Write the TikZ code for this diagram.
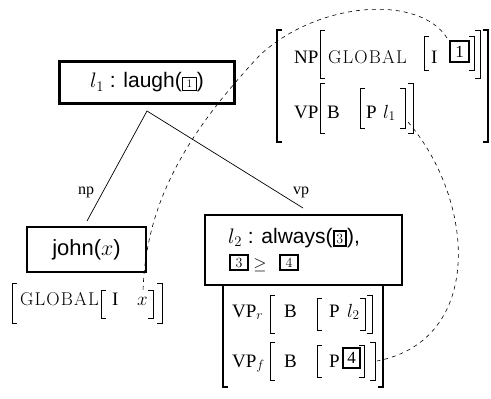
\RequirePackage{fix-cm}
\documentclass[tikz,border=0pt]{standalone}
\usepackage{fontspec}
\setmainfont{Liberation Serif}
\setsansfont{Liberation Sans}
\newfontfamily\lmfont{Latin Modern Roman}
\newfontfamily\lmsc[LetterSpace=6]{Latin Modern Roman}
\newcommand{\tg}[3]{{\setlength{\fboxrule}{#1}\setlength{\fboxsep}{#2}\fbox{#3}}}
\newcommand{\LB}[4][brk]{\draw[#1] (#2+5,#3) -- (#2,#3) -- (#2,#4) -- (#2+5,#4);}
\newcommand{\RB}[4][brk]{\draw[#1] (#2-5,#3) -- (#2,#3) -- (#2,#4) -- (#2-5,#4);}
\begin{document}
\begin{tikzpicture}[x=1pt,y=-1pt,
  lab/.style={inner sep=0pt, anchor=base west, font=\fontsize{19}{22}\selectfont},
  sc/.style={inner sep=0pt, anchor=base west, font=\fontsize{18.5}{20}\selectfont\lmsc},
  brk/.style={line width=0.9pt},
  obrk/.style={line width=1.3pt},
  tbox/.style={draw, line width=2.4pt, inner sep=0pt, font=\fontsize{17}{17}\selectfont},
  sbox/.style={draw, line width=2pt, inner sep=0pt, minimum width=18, minimum height=15, font=\fontsize{14}{14}\selectfont\lmfont},
  labbox/.style={draw, line width=2.2pt, inner sep=0pt},
  link/.style={line width=0.6pt, dash pattern=on 4pt off 4pt},
  treeline/.style={line width=0.7pt},
  edgelab/.style={inner sep=0pt, anchor=base, font=\fontsize{16}{16}\selectfont},
]
\useasboundingbox (0,0) rectangle (491,399);

% top-right AVM
\LB[obrk]{277}{30}{142}
\RB[obrk]{488}{30}{142}
\node[lab] (npl) at (294,63) {NP};
\LB{320}{30}{78}
\node[sc] (glob1) at (328,63) {GLOBAL};
\LB{424}{36}{70}
\node[lab] (i1) at (431,63) {I};
\node[tbox, minimum width=19, minimum height=21] (b1) at (459.5,51.5) {1};
\RB{474}{36}{70}
\RB{480}{30}{78}
\node[lab] (vpl) at (294,118) {VP};
\LB{320}{83}{133}
\node[lab] (bt) at (327,118) {B};
\LB{360}{88}{128}
\node[lab] (pt) at (366,118) {P};
\node[lab] (l1) at (383,118) {$l_1$};
\RB{405}{88}{128}
\RB{413}{83}{133}

% laugh
\node[labbox, minimum width=175, minimum height=42, font=\sffamily\fontsize{21}{25}\selectfont] (laugh) at (147,82.5)
  {$l_1$ : laugh(\tg{1.3pt}{2.2pt}{\makebox[8pt]{\fontsize{11.5}{11.5}\selectfont\lmfont 1}})};

% tree
\coordinate (apex) at (147,111);
\coordinate (npend) at (87,221);
\coordinate (vpend) at (303,208);
\draw[treeline] (npend) -- (apex) -- (vpend);
\node[edgelab] (nplab) at (86,194) {np};
\node[edgelab] (vplab) at (301,194) {vp};

% john
\node[labbox, minimum width=119, minimum height=45, font=\sffamily\fontsize{22}{26}\selectfont] (john) at (86.5,249.5) {john($x$)};
\LB{12}{283}{323}
\node[sc] (glob2) at (20,305) {GLOBAL};
\LB{101}{290}{318}
\node[lab] (i2) at (112,305) {I};
\node[lab] (x) at (137,305) {$x$};
\RB{153}{290}{318}
\RB{162}{283}{323}

% l2 box
\node[labbox, minimum width=197, minimum height=70] (l2box) at (303.5,250) {};
\node[lab, font=\sffamily\fontsize{21}{25}\selectfont] (l2a) at (228,243)
  {$l_2$ : always(\tg{2pt}{1.8pt}{\fontsize{14}{14}\selectfont\lmfont 3}),};
\node[sbox] (b3) at (239,262.5) {3};
\node[inner sep=0pt, anchor=base, font=\fontsize{17}{17}\selectfont] (geq) at (260,269) {$\geq$};
\node[sbox] (b4s) at (289,262.5) {4};

% lower AVM
\LB[obrk]{223}{285}{387}
\RB[obrk]{383}{285}{387}
\node[lab] (vpr) at (232,317) {VP$_r$};
\LB{270}{295}{333}
\node[lab] (br) at (284,317) {B};
\LB{317}{298}{330}
\node[lab] (pr) at (329,317) {P};
\node[lab] (l2) at (347,317) {$l_2$};
\RB{365}{298}{330}
\RB{372}{295}{333}
\node[lab] (vpf) at (232,367) {VP$_f$};
\LB{270}{342}{380}
\node[lab] (bf) at (284,367) {B};
\LB{317}{345}{377}
\node[lab] (pf) at (329,367) {P};
\node[tbox, minimum width=17, minimum height=20, line width=2pt] (b4) at (351.5,358) {4};
\RB{364}{345}{377}
\RB{375}{342}{380}

% dashed links
\coordinate (c1s) at (447,38);
\coordinate (c1m) at (260,55);
\coordinate (c1e) at (143,293);
\draw[link] (c1s) .. controls (420,-5) and (320,0) .. (c1m) .. controls (190,130) and (145,200) .. (c1e);
\coordinate (c2s) at (408,122);
\coordinate (c2e) at (377,361);
\draw[link] (c2s) .. controls (475,200) and (485,340) .. (c2e);
\end{tikzpicture}
\end{document}
